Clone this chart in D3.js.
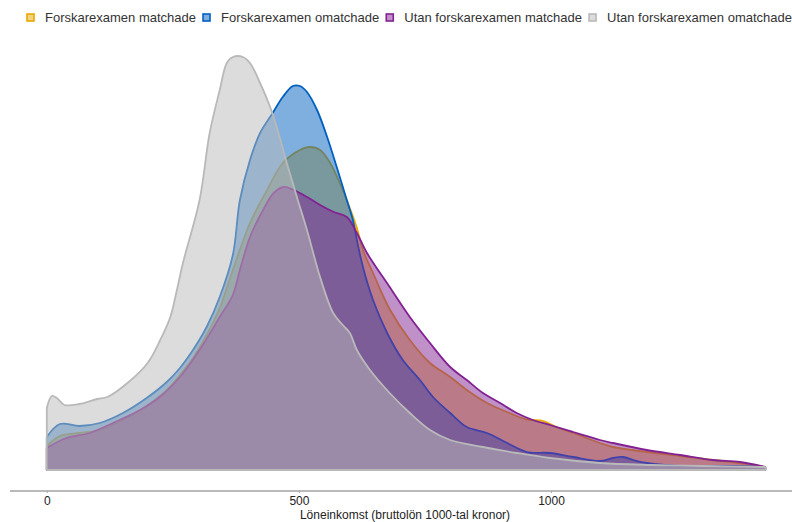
<!DOCTYPE html>
<meta charset="utf-8">
<script src="https://d3js.org/d3.v7.min.js"></script>
<style>
  body { margin: 0; background: #fff; }
  text { font-family: "Liberation Sans", Arial, sans-serif; }
</style>
<div id="chart"></div>
<script>
// series names + colours (legend order = draw order)
const seriesNames = ["Forskarexamen matchade", "Forskarexamen omatchade",
                     "Utan forskarexamen matchade", "Utan forskarexamen omatchade"];
const seriesColors = ["#e8a800", "#0060c0", "#822192", "#b9b9b9"];

// density curves (x = 1000 kr, y = relative density)
const yellowX = [0, 26, 65, 105, 151, 198, 238, 264, 290, 317, 343, 369, 403, 437, 468, 502, 522, 542, 562, 581, 601, 615, 627, 647, 681, 720, 760, 800, 833, 873, 913, 952, 985, 1010, 1044, 1097, 1123, 1190, 1256, 1321, 1389, 1425];
const yellowY = [0.24, 0.34, 0.37, 0.40, 0.50, 0.64, 0.80, 0.95, 1.12, 1.35, 1.62, 2.00, 2.47, 2.80, 3.07, 3.20, 3.23, 3.20, 3.07, 2.87, 2.62, 2.42, 2.20, 1.97, 1.60, 1.30, 1.07, 0.93, 0.80, 0.67, 0.58, 0.505, 0.49, 0.43, 0.37, 0.27, 0.23, 0.18, 0.14, 0.10, 0.06, 0.03];

const blueX = [0, 26, 65, 105, 151, 198, 238, 264, 290, 317, 343, 369, 383, 403, 423, 448, 468, 488, 502, 516, 536, 556, 575, 595, 607, 615, 627, 647, 675, 706, 740, 766, 800, 833, 873, 913, 952, 998, 1044, 1097, 1123, 1143, 1163, 1190, 1256, 1350, 1425];
const blueY = [0.33, 0.46, 0.44, 0.47, 0.57, 0.72, 0.88, 1.02, 1.20, 1.43, 1.73, 2.15, 2.70, 3.10, 3.37, 3.57, 3.73, 3.84, 3.84, 3.78, 3.60, 3.33, 3.03, 2.70, 2.50, 2.30, 2.03, 1.70, 1.37, 1.10, 0.90, 0.73, 0.57, 0.43, 0.37, 0.27, 0.18, 0.17, 0.13, 0.09, 0.12, 0.13, 0.10, 0.07, 0.04, 0.04, 0.03];

const purpleX = [0, 39, 85, 131, 185, 224, 264, 303, 343, 369, 383, 403, 429, 450, 470, 490, 516, 542, 569, 595, 615, 635, 680, 720, 760, 800, 833, 865, 899, 932, 964, 998, 1044, 1097, 1123, 1190, 1256, 1321, 1375, 1425];
const purpleY = [0.22, 0.32, 0.37, 0.47, 0.60, 0.73, 0.93, 1.20, 1.53, 1.75, 2.00, 2.33, 2.60, 2.77, 2.83, 2.80, 2.73, 2.65, 2.58, 2.53, 2.37, 2.17, 1.83, 1.53, 1.27, 1.03, 0.90, 0.77, 0.67, 0.57, 0.50, 0.45, 0.38, 0.30, 0.27, 0.20, 0.15, 0.10, 0.08, 0.03];

const greyX = [0, 10, 20, 35, 65, 100, 120, 160, 200, 225, 245, 258, 270, 303, 323, 343, 357, 369, 389, 403, 423, 443, 456, 476, 496, 516, 542, 568, 587, 601, 615, 641, 680, 720, 760, 800, 865, 932, 998, 1097, 1200, 1300, 1425];
const greyY = [0.62, 0.74, 0.72, 0.65, 0.66, 0.71, 0.73, 0.87, 1.07, 1.30, 1.53, 1.80, 2.07, 2.70, 3.37, 3.80, 4.07, 4.13, 4.13, 4.07, 3.87, 3.63, 3.43, 3.07, 2.73, 2.40, 1.93, 1.57, 1.45, 1.37, 1.20, 1.00, 0.77, 0.57, 0.40, 0.30, 0.23, 0.17, 0.12, 0.07, 0.05, 0.04, 0.03];

const xTicks = [0, 500, 1000];
const xTitle = "Löneinkomst (bruttolön 1000-tal kronor)";

const W = 792, H = 522;
const svg = d3.select("#chart").append("svg")
  .attr("width", W).attr("height", H);

const x = d3.scaleLinear().domain([-73, 1478]).range([10, 792]);
const y = d3.scaleLinear().domain([0, 4.2]).range([470, 50]);

const series = [
  d3.zip(yellowX, yellowY),
  d3.zip(blueX, blueY),
  d3.zip(purpleX, purpleY),
  d3.zip(greyX, greyY)
];

const area = d3.area()
  .x(d => x(d[0]))
  .y0(y(0))
  .y1(d => y(d[1]))
  .curve(d3.curveCatmullRom.alpha(0.5));

series.forEach((pts, i) => {
  svg.append("path")
    .datum(pts)
    .attr("d", area)
    .attr("fill", seriesColors[i])
    .attr("fill-opacity", 0.5)
    .attr("stroke", seriesColors[i])
    .attr("stroke-width", 1.8)
    .attr("stroke-linejoin", "round");
});

// x axis
const axis = svg.append("g")
  .attr("transform", "translate(0,491)")
  .call(d3.axisBottom(x).tickValues(xTicks).tickFormat(d3.format("d")).tickSize(2).tickPadding(3));
axis.select(".domain").attr("stroke", "#777").attr("d", "M10,0H792");
axis.selectAll(".tick line").attr("stroke", "#aaa");
axis.selectAll(".tick text")
  .attr("fill", "#222")
  .style("font-size", "12px")
  .style("font-family", "Liberation Sans, Arial, sans-serif");

svg.append("text")
  .attr("x", 405).attr("y", 519)
  .attr("text-anchor", "middle")
  .attr("fill", "#222")
  .style("font-size", "12px")
  .text(xTitle);

// legend
let lx = 27;
seriesNames.forEach((name, i) => {
  const g = svg.append("g");
  g.append("rect")
    .attr("x", lx).attr("y", 14)
    .attr("width", 7).attr("height", 7)
    .attr("fill", seriesColors[i]).attr("fill-opacity", 0.5)
    .attr("stroke", seriesColors[i]).attr("stroke-width", 1.6);
  const t = g.append("text")
    .attr("x", lx + 18).attr("y", 22)
    .attr("fill", "#333")
    .style("font-size", "13px")
    .text(name);
  lx += 18 + t.node().getComputedTextLength() + 7;
});
</script>
